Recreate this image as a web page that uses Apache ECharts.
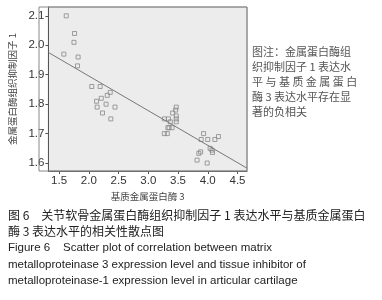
<!DOCTYPE html>
<html>
<head>
<meta charset="utf-8">
<script src="https://cdn.jsdelivr.net/npm/echarts@6/dist/echarts.min.js"></script>
<style>
  html, body { margin: 0; padding: 0; background: #fff; }
  #chart { width: 382px; height: 300px; }
</style>
</head>
<body>
<div id="chart"></div>
<script>
"use strict";

// MMP-3 expression (x) vs TIMP-1 expression (y)
const mmp3 = [
  1.62, 1.76, 1.75, 1.58, 1.82, 1.81,
  2.05, 2.19, 2.36, 2.31, 2.21, 2.13, 2.29, 2.14, 2.44, 2.23, 2.37,
  3.27, 3.34, 3.37, 3.47, 3.46, 3.41, 3.47, 3.47, 3.47, 3.33, 3.35, 3.40, 3.27, 3.32,
  3.93, 3.89, 4.00, 4.12, 4.18, 4.04, 4.07, 4.08, 3.88, 3.85, 3.82, 3.99
];
const timp1 = [
  2.10, 2.04, 2.01, 1.97, 1.96, 1.93,
  1.86, 1.86, 1.84, 1.83, 1.82, 1.81, 1.80, 1.79, 1.79, 1.77, 1.75,
  1.75, 1.75, 1.74, 1.79, 1.78, 1.77, 1.76, 1.75, 1.74, 1.72, 1.72, 1.72, 1.70, 1.70,
  1.70, 1.68, 1.68, 1.68, 1.69, 1.65, 1.644, 1.636, 1.638, 1.633, 1.61, 1.60
];

// fitted line as drawn: y = intercept + slope * x
const fitIntercept = 2.131;
const fitSlope = -0.1177;
const fitRange = [1.32, 4.66];

const xTicks = [1.5, 2.0, 2.5, 3.0, 3.5, 4.0, 4.5];
const yTicks = [1.6, 1.7, 1.8, 1.9, 2.0, 2.1];

const noteLines = [
  "图注：金属蛋白酶组",
  "织抑制因子 1 表达水",
  "平 与 基 质 金 属 蛋 白",
  "酶 3 表达水平存在显",
  "著的负相关"
];
const captionLines = [
  "图 6　关节软骨金属蛋白酶组织抑制因子 1 表达水平与基质金属蛋白",
  "酶 3 表达水平的相关性散点图",
  "Figure 6    Scatter plot of correlation between matrix",
  "metalloproteinase 3 expression level and tissue inhibitor of",
  "metalloproteinase-1 expression level in articular cartilage"
];

const points = mmp3.map((x, i) => [x, timp1[i]]);
const fitLine = fitRange.map(x => [x, fitIntercept + fitSlope * x]);

const chart = echarts.init(document.getElementById("chart"), null, { renderer: "canvas" });

const textColor = "#333";
const cjk = "'Noto Sans CJK SC', sans-serif";
const latin = "'Liberation Sans', Arial, sans-serif";

let graphics = [
  {
    type: "rect",
    shape: { x: 39, y: 7, width: 208, height: 164 },
    style: { fill: "none", stroke: "#888", lineWidth: 1 },
    z: 10
  }
];
noteLines.forEach((t, i) => {
  graphics.push({
    type: "text",
    left: 252,
    top: 46 + i * 15.2,
    style: { text: t, fill: "#555", font: "11px " + cjk }
  });
});
captionLines.forEach((t, i) => {
  graphics.push({
    type: "text",
    left: 8,
    top: 209 + i * 16.5,
    style: {
      text: t,
      fill: "#222",
      font: (i < 2 ? "12px " + cjk : "11.5px " + latin)
    }
  });
});

chart.setOption({
  animation: false,
  grid: {
    left: 39,
    right: 135,
    top: 7,
    bottom: 129,
    show: true,
    backgroundColor: "#ececec",
    borderColor: "#999",
    borderWidth: 1
  },
  xAxis: {
    type: "value",
    min: fitRange[0],
    max: fitRange[1],
    name: "基质金属蛋白酶 3",
    nameLocation: "middle",
    nameGap: 19,
    nameTextStyle: { color: "#444", fontSize: 9.5, fontFamily: cjk },
    axisLine: { show: true, lineStyle: { color: "#555" } },
    axisTick: { show: true, customValues: xTicks, length: 3, lineStyle: { color: "#555" } },
    axisLabel: {
      customValues: xTicks,
      formatter: v => v.toFixed(1),
      color: textColor,
      fontSize: 11.5,
      fontFamily: latin,
      margin: 4
    },
    splitLine: { show: false }
  },
  yAxis: {
    type: "value",
    min: 1.573,
    max: 2.13,
    name: "金属蛋白酶组织抑制因子 1",
    nameLocation: "middle",
    nameGap: 24,
    nameRotate: 90,
    nameTextStyle: { color: "#444", fontSize: 9.5, fontFamily: cjk },
    axisLine: { show: true, lineStyle: { color: "#555" } },
    axisTick: { show: true, customValues: yTicks, length: 3, lineStyle: { color: "#555" } },
    axisLabel: {
      customValues: yTicks,
      formatter: v => v.toFixed(1),
      color: textColor,
      fontSize: 11.5,
      fontFamily: latin,
      margin: 4
    },
    splitLine: { show: false }
  },
  series: [
    {
      type: "line",
      data: fitLine,
      symbol: "none",
      lineStyle: { color: "#777", width: 1 },
      silent: true
    },
    {
      type: "scatter",
      data: points,
      symbol: "rect",
      symbolSize: 4,
      itemStyle: { color: "rgba(0,0,0,0)", borderColor: "#888", borderWidth: 1 }
    }
  ],
  graphic: graphics
});
</script>
</body>
</html>
